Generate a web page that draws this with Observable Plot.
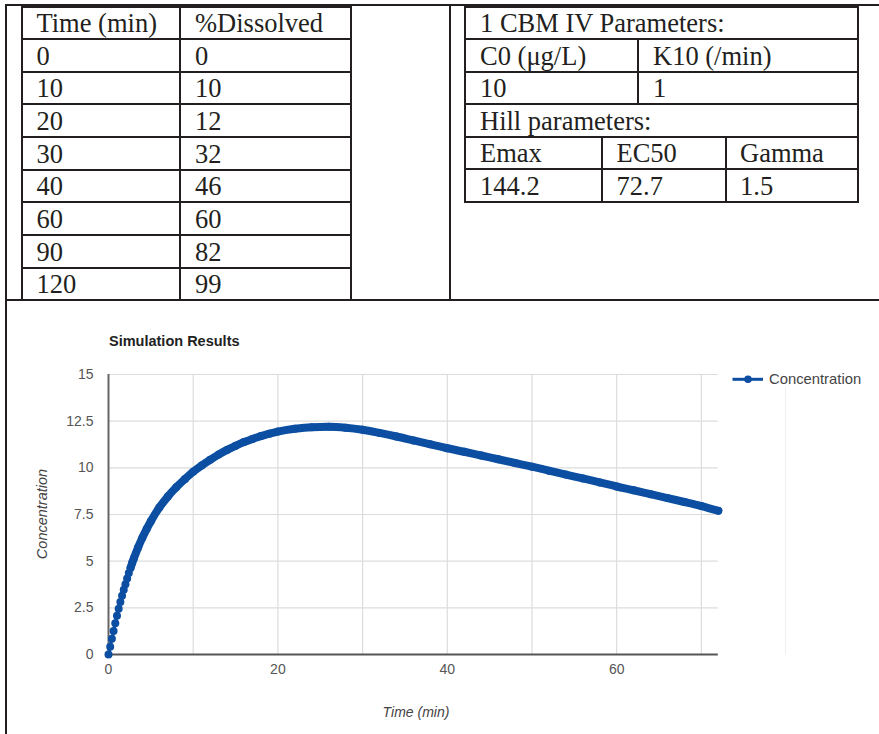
<!DOCTYPE html>
<html>
<head>
<meta charset="utf-8">
<script src="https://cdn.jsdelivr.net/npm/d3@7"></script>
<script src="https://cdn.jsdelivr.net/npm/@observablehq/plot@0.6"></script>
<style>
html,body{margin:0;padding:0;background:#fff;}
#page{position:relative;width:879px;height:734px;overflow:hidden;background:#fff;}
.ln{position:absolute;background:#231f20;}
.cell{position:absolute;font-family:'Liberation Serif','Times New Roman',serif;font-size:26.5px;line-height:26.5px;color:#231f20;white-space:nowrap;}
.sans{position:absolute;font-family:'Liberation Sans',Arial,sans-serif;white-space:nowrap;line-height:1;}
#chart{position:absolute;left:0;top:302px;}
</style>
</head>
<body>
<div id="page"><div id="chart"></div></div>
<script>
// ---- table data ----
const tableHeader = ["Time (min)", "%Dissolved"];
const dissolutionTime = [0, 10, 20, 30, 40, 60, 90, 120];
const percentDissolved = [0, 10, 12, 32, 46, 60, 82, 99];
const cbmTitle = "1 CBM IV Parameters:";
const cbmLabels = ["C0 (\u03bcg/L)", "K10 (/min)"];
const cbmValues = ["10", "1"];
const hillTitle = "Hill parameters:";
const hillLabels = ["Emax", "EC50", "Gamma"];
const hillValues = ["144.2", "72.7", "1.5"];

// ---- chart data ----
const chartTitle = "Simulation Results";
const seriesName = "Concentration";
const xTitle = "Time (min)";
const yTitle = "Concentration";
const simTime = [0, 0.2, 0.4, 0.6, 0.8, 1.0, 1.2, 1.4, 1.6, 1.8, 2.0, 2.2, 2.4, 2.6, 2.8, 3.0,
  3.5, 4, 4.5, 5, 6, 7, 8, 9, 10, 11, 12, 13, 14, 15, 16, 17, 18, 19, 20,
  22, 24, 26, 28, 30, 32, 34, 36, 38, 40, 42, 44, 46, 48, 50, 52, 54, 56, 58, 60,
  62, 64, 66, 68, 70, 72];
const simConc = [0, 0.42, 0.84, 1.26, 1.68, 2.07, 2.45, 2.81, 3.15, 3.47, 3.77, 4.07, 4.36, 4.64, 4.91, 5.16,
  5.74, 6.26, 6.72, 7.14, 7.87, 8.46, 8.96, 9.39, 9.79, 10.13, 10.43, 10.71, 10.96, 11.18, 11.38, 11.55, 11.7, 11.83, 11.94,
  12.09, 12.18, 12.2, 12.15, 12.04, 11.87, 11.68, 11.47, 11.26, 11.05, 10.86, 10.66, 10.46, 10.26, 10.06, 9.85, 9.64, 9.43, 9.22, 9.0,
  8.8, 8.59, 8.38, 8.17, 7.95, 7.7];
const xDomain = [0, 72];
const yDomain = [0, 15];
const xTicks = [0, 20, 40, 60];
const xGridLines = [10, 20, 30, 40, 50, 60, 70];
const yTicks = [0, 2.5, 5, 7.5, 10, 12.5, 15];

const BLUE = "#0b4ea2";
const page = document.getElementById("page");

function line(cx, cy, w, h, horizontal) {
  const d = document.createElement("div");
  d.className = "ln";
  if (horizontal) {
    d.style.left = cx + "px"; d.style.top = (cy - 1) + "px";
    d.style.width = w + "px"; d.style.height = "2px";
  } else {
    d.style.left = (cx - 1) + "px"; d.style.top = cy + "px";
    d.style.width = "2px"; d.style.height = h + "px";
  }
  page.appendChild(d);
}
function hline(x1, x2, y) { line(x1, y, x2 - x1, 0, true); }
function vline(x, y1, y2) { line(x, y1, 0, y2 - y1, false); }
function cell(str, x, baseline) {
  const d = document.createElement("div");
  d.className = "cell";
  d.textContent = str;
  d.style.left = x + "px";
  d.style.top = (baseline - 22.2) + "px";
  page.appendChild(d);
}

// ---- outer frame ----
hline(5, 879, 5);
vline(6.2, 4, 734);
vline(449.5, 4, 301);
hline(5, 879, 300.3);

// ---- left table ----
const LROW = 32.65, LTOP = 6.5;
const lCols = [21.8, 180.2, 350.8];
for (let i = 0; i <= 9; i++) hline(21, 352, LTOP + i * LROW);
lCols.forEach(x => vline(x, 5.5, 301));
const lRows = [tableHeader].concat(dissolutionTime.map((t, i) => [String(t), String(percentDissolved[i])]));
lRows.forEach((r, i) => {
  const base = LTOP + i * LROW + 25.8;
  cell(r[0], 36.5, base);
  cell(r[1], 195, base);
});

// ---- right table ----
const RROW = 32.55, RTOP = 6.5;
for (let i = 0; i <= 6; i++) hline(464.5, 858.8, RTOP + i * RROW);
vline(465.2, 5.5, RTOP + 6 * RROW + 1);
vline(857.8, 5.5, RTOP + 6 * RROW + 1);
vline(638.3, RTOP + RROW, RTOP + 3 * RROW);
vline(602.3, RTOP + 4 * RROW, RTOP + 6 * RROW);
vline(726, RTOP + 4 * RROW, RTOP + 6 * RROW);
const rb = i => RTOP + i * RROW + 25.8;
cell(cbmTitle, 480, rb(0));
cell(cbmLabels[0], 480, rb(1)); cell(cbmLabels[1], 653, rb(1));
cell(cbmValues[0], 480, rb(2)); cell(cbmValues[1], 653, rb(2));
cell(hillTitle, 480, rb(3));
const hillX = [480, 616.5, 740];
hillLabels.forEach((s, i) => cell(s, hillX[i], rb(4)));
hillValues.forEach((s, i) => cell(s, hillX[i], rb(5)));

// ---- chart ----
const data = simTime.map((t, i) => ({t, c: simConc[i]}));
const chart = Plot.plot({
  width: 879,
  height: 432,
  marginLeft: 108,
  marginRight: 161.2,
  marginTop: 72,
  marginBottom: 80,
  style: {fontFamily: "'Liberation Sans', Arial, sans-serif", fontSize: "14px", color: "#555", background: "transparent"},
  x: {domain: xDomain, label: null},
  y: {domain: yDomain, label: null},
  marks: [
    Plot.gridX(xGridLines, {stroke: "#dcdcdc", strokeOpacity: 1, strokeWidth: 1.2}),
    Plot.gridY(yTicks.filter(d => d > 0), {stroke: "#dcdcdc", strokeOpacity: 1, strokeWidth: 1.2}),
    Plot.ruleY([0], {stroke: "#555", strokeWidth: 2}),
    Plot.ruleX([0], {stroke: "#666", strokeWidth: 2}),
    Plot.axisX(xTicks, {tickSize: 0, tickPadding: 10, label: null, fill: "#555", fontSize: 14}),
    Plot.axisY(yTicks, {tickSize: 0, tickPadding: 15, label: null, tickFormat: d => String(d), fill: "#555", fontSize: 14}),
    Plot.line(data, {x: "t", y: "c", stroke: BLUE, strokeWidth: 3, curve: "monotone-x"}),
    Plot.line(data, {filter: d => d.t >= 2.6, x: "t", y: "c", stroke: BLUE, strokeWidth: 8, curve: "monotone-x", strokeLinecap: "round"}),
    Plot.dot(data, {x: "t", y: "c", r: 4, fill: BLUE, stroke: "none"})
  ]
});
document.getElementById("chart").appendChild(chart);

// faint stray gridline seen right of the plot area
const ghost = document.createElement("div");
ghost.style.cssText = "position:absolute;left:785px;top:387px;width:1px;height:268px;background:#efefef;";
page.appendChild(ghost);

// title
const ttl = document.createElement("div");
ttl.className = "sans";
ttl.textContent = chartTitle;
ttl.style.cssText += "left:109px;top:333.5px;font-size:14.5px;font-weight:bold;color:#222;";
page.appendChild(ttl);

// axis titles
const yt = document.createElement("div");
yt.className = "sans";
yt.textContent = yTitle;
yt.style.cssText += "left:42px;top:514px;font-size:14.5px;font-style:italic;color:#444;transform:translate(-50%,-50%) rotate(-90deg);";
page.appendChild(yt);
const xt = document.createElement("div");
xt.className = "sans";
xt.textContent = xTitle;
xt.style.cssText += "left:416px;top:712px;font-size:14px;font-style:italic;color:#444;transform:translate(-50%,-50%);";
page.appendChild(xt);

// legend
const lg = document.createElement("div");
lg.style.cssText = "position:absolute;left:730px;top:369px;height:22px;width:149px;";
lg.innerHTML = '<svg width="34" height="22" style="position:absolute;left:0;top:0">' +
  '<line x1="2.5" y1="10.3" x2="33" y2="10.3" stroke="' + BLUE + '" stroke-width="3"/>' +
  '<circle cx="18" cy="10.3" r="3.8" fill="' + BLUE + '"/></svg>';
const lt = document.createElement("div");
lt.className = "sans";
lt.textContent = seriesName;
lt.style.cssText += "left:39px;top:2.5px;font-size:14.8px;color:#444;";
lg.appendChild(lt);
page.appendChild(lg);
</script>
</body>
</html>
